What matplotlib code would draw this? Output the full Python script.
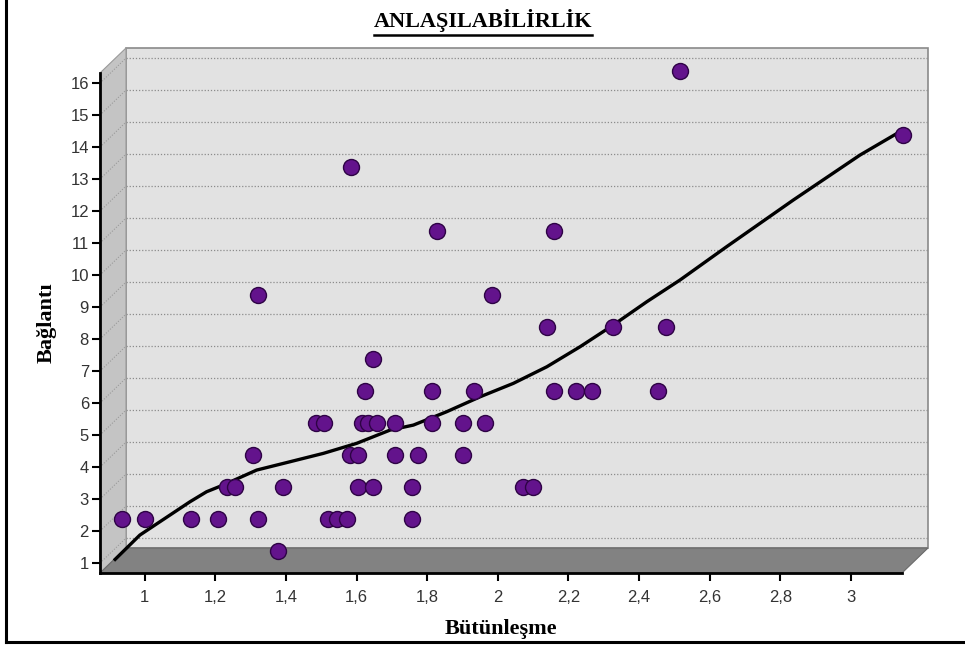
import matplotlib.pyplot as plt
import numpy as np
from matplotlib.patches import Polygon, Rectangle
from matplotlib.lines import Line2D

# data (Bütünleşme, Bağlantı)
butunlesme = [0.898, 0.964, 1.093, 1.170, 1.285, 1.483, 1.507, 1.535, 1.721,
              1.340,
              1.195, 1.219, 1.354, 1.566, 1.610, 1.721, 2.034, 2.064,
              1.270, 1.544, 1.568, 1.672, 1.736, 1.864,
              1.448, 1.472, 1.578, 1.596, 1.620, 1.672, 1.776, 1.864, 1.927,
              1.587, 1.776, 1.897, 2.122, 2.185, 2.229, 2.418,
              1.610,
              2.102, 2.290, 2.440,
              1.285, 1.946,
              1.792, 2.123,
              1.546,
              3.112,
              2.479]
baglanti = [2, 2, 2, 2, 2, 2, 2, 2, 2,
            1,
            3, 3, 3, 3, 3, 3, 3, 3,
            4, 4, 4, 4, 4, 4,
            5, 5, 5, 5, 5, 5, 5, 5, 5,
            6, 6, 6, 6, 6, 6, 6,
            7,
            8, 8, 8,
            9, 9,
            11, 11,
            13,
            14,
            16]

# smoothed trend line
trend_x = [0.879, 0.949, 1.091, 1.138, 1.185, 1.280, 1.374, 1.469, 1.563, 1.658,
           1.724, 1.818, 1.913, 2.007, 2.102, 2.196, 2.290, 2.385, 2.479, 2.611,
           2.800, 2.989, 3.097]
trend_y = [0.725, 1.484, 2.525, 2.838, 3.047, 3.516, 3.775, 4.038, 4.350, 4.766,
           4.922, 5.338, 5.806, 6.225, 6.744, 7.369, 8.047, 8.775, 9.453, 10.494,
           11.953, 13.359, 14.056]

xticks = [1, 1.2, 1.4, 1.6, 1.8, 2, 2.2, 2.4, 2.6, 2.8, 3]
xticklabels = ['1', '1,2', '1,4', '1,6', '1,8', '2', '2,2', '2,4', '2,6', '2,8', '3']
yticks = list(range(1, 17))

fig = plt.figure(figsize=(9.65, 6.46), dpi=100)
ax = fig.add_axes([100/965, 73/646, 802/965, 500/646])
x0, x1 = 0.873, 0.873 + 802/353
y0, y1 = 0.69, 0.69 + 500/32
ax.set_xlim(x0, x1)
ax.set_ylim(y0, y1)
ax.patch.set_visible(False)

# 3d depth offset (back wall), in data units
DX = 26/353
DY = 25/32

# back wall
ax.add_patch(Rectangle((x0+DX, y0+DY), x1-x0, y1-y0, facecolor='#e2e2e2',
                       edgecolor='#8a8a8a', lw=1.2, clip_on=False, zorder=0))
for v in yticks:
    ax.plot([x0+DX, x1+DX], [v+DY, v+DY], color='#8c8c8c', lw=0.9, ls=(0, (1, 1.5)),
            clip_on=False, zorder=1)
    ax.plot([x0, x0+DX], [v, v+DY], color='#9a9a9a', lw=0.8, ls=(0, (1, 1.5)),
            clip_on=False, zorder=2)

# side wall
ax.add_patch(Polygon([(x0, y0), (x0, y1), (x0+DX, y1+DY), (x0+DX, y0+DY)],
                     closed=True, facecolor='#c4c4c4', edgecolor='#9a9a9a', lw=0.8,
                     clip_on=False, zorder=1.5))
# floor
ax.add_patch(Polygon([(x0, y0), (x1, y0), (x1+DX, y0+DY), (x0+DX, y0+DY)],
                     closed=True, facecolor='#828282', edgecolor='#6a6a6a', lw=0.8,
                     clip_on=False, zorder=1.5))

# series sit at the middle of the depth
ax.plot(np.array(trend_x) + DX/2, np.array(trend_y) + DY/2, color='black', lw=2.4,
        clip_on=False, zorder=4)
ax.plot(np.array(butunlesme) + DX/2, np.array(baglanti) + DY/2, 'o', ms=11.5,
        mfc='#63138c', mec='#2e0345', mew=1.0, clip_on=False, zorder=5)

for s in ['top', 'right']:
    ax.spines[s].set_visible(False)
for s in ['left', 'bottom']:
    ax.spines[s].set_linewidth(2)
    ax.spines[s].set_zorder(6)

ax.set_xticks(xticks)
ax.set_xticklabels(xticklabels)
ax.set_yticks(yticks)
ax.tick_params(axis='both', direction='out', length=6, width=1.5, color='black',
               labelsize=12, labelcolor='#333333')
ax.tick_params(axis='x', pad=6)
ax.tick_params(axis='y', pad=2)
for lab in ax.get_xticklabels() + ax.get_yticklabels():
    lab.set_family('Liberation Sans')

ax.set_xlabel('Bütünleşme', fontsize=16, fontweight='bold', family='Liberation Serif',
              labelpad=10)
ax.set_ylabel('Bağlantı', fontsize=16, fontweight='bold', family='Liberation Serif',
              labelpad=10)

# underlined title
title = fig.text(483/965, 1 - 20/646, 'ANLAŞILABİLİRLİK', ha='center', va='center',
                 fontsize=16, fontweight='bold', family='Liberation Serif')
fig.canvas.draw()
bb = title.get_window_extent().transformed(fig.transFigure.inverted())
fig.add_artist(Line2D([bb.x0, bb.x1], [1 - 35/646, 1 - 35/646], color='black', lw=1.8,
                      transform=fig.transFigure))

# page frame
fig.add_artist(Line2D([6/965, 6/965], [1, 1 - 642/646], color='black', lw=2.2,
                      transform=fig.transFigure))
fig.add_artist(Line2D([6/965, 1], [1 - 642/646, 1 - 642/646], color='black', lw=2.2,
                      transform=fig.transFigure))

fig.savefig('out.png', dpi=100)
